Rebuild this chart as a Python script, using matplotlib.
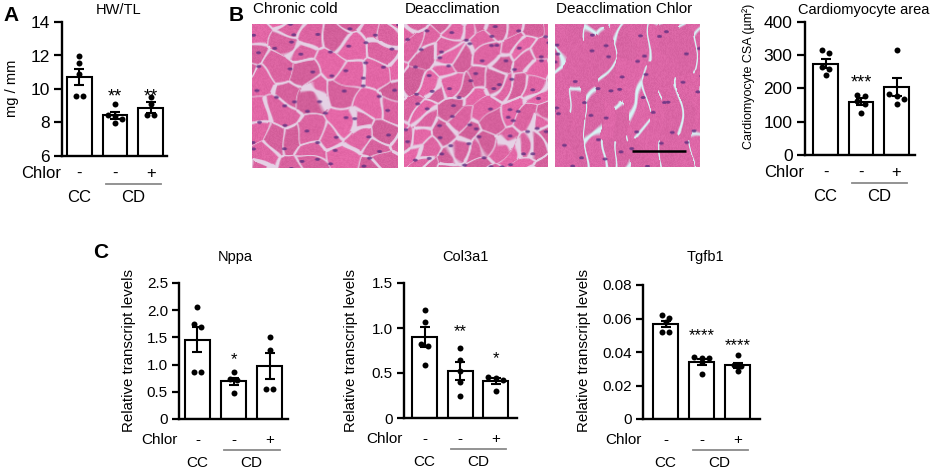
import numpy as np
import matplotlib
matplotlib.use("Agg")
import matplotlib.pyplot as plt
from matplotlib import transforms as mtrans

plt.rcParams['font.family'] = ['Liberation Sans', 'DejaVu Sans']

# ---------------- data ----------------
bar_groups = ['CC', 'CD', 'CD']
chlor_signs = ['-', '-', '+']

hwtl_mean = [10.73, 8.42, 8.89]
hwtl_sem = [0.48, 0.19, 0.31]
hwtl_points = [[11.98, 11.58, 10.89, 9.61, 9.61],
               [9.09, 8.45, 8.40, 8.20, 7.95],
               [9.55, 9.09, 8.45, 8.45]]
hwtl_stars = ['', '**', '**']
hwtl_ticks = [6, 8, 10, 12, 14]
hwtl_ticklabels = ['6', '8', '10', '12', '14']

csa_mean = [275, 160, 205]
csa_sem = [14, 10, 28]
csa_points = [[317, 308, 265, 258, 242],
              [180, 177, 162, 152, 125],
              [317, 182, 178, 168, 152]]
csa_stars = ['', '***', '']
csa_ticks = [0, 100, 200, 300, 400]
csa_ticklabels = ['0', '100', '200', '300', '400']

nppa_mean = [1.46, 0.69, 0.98]
nppa_sem = [0.23, 0.07, 0.24]
nppa_points = [[2.06, 1.75, 1.70, 0.87, 0.87],
               [0.86, 0.74, 0.72, 0.47],
               [1.50, 1.27, 0.55, 0.55]]
nppa_stars = ['', '*', '']
nppa_ticks = [0, 0.5, 1.0, 1.5, 2.0, 2.5]
nppa_ticklabels = ['0', '0.5', '1.0', '1.5', '2.0', '2.5']

col3_mean = [0.90, 0.52, 0.41]
col3_sem = [0.11, 0.10, 0.03]
col3_points = [[1.20, 1.07, 0.82, 0.80, 0.585],
               [0.78, 0.65, 0.52, 0.40, 0.24],
               [0.46, 0.44, 0.42, 0.30]]
col3_stars = ['', '**', '*']
col3_ticks = [0, 0.5, 1.0, 1.5]
col3_ticklabels = ['0', '0.5', '1.0', '1.5']

tgfb_mean = [0.0568, 0.0338, 0.0320]
tgfb_sem = [0.0018, 0.0018, 0.0017]
tgfb_points = [[0.0621, 0.0605, 0.0580, 0.0522, 0.0522],
               [0.0373, 0.0367, 0.0367, 0.0340, 0.0268],
               [0.0383, 0.0320, 0.0315, 0.0285]]
tgfb_stars = ['', '****', '****']
tgfb_ticks = [0, 0.02, 0.04, 0.06, 0.08]
tgfb_ticklabels = ['0', '0.02', '0.04', '0.06', '0.08']

histo_titles = ['Chronic cold', 'Deacclimation', 'Deacclimation Chlor']

# ---------------- figure ----------------
W, H = 934, 471
fig = plt.figure(figsize=(W / 100, H / 100), dpi=100)


def px_axes(x0, y0, x1, y1):
    return fig.add_axes([x0 / W, 1 - y1 / H, (x1 - x0) / W, (y1 - y0) / H])


def fig_text(x, y, s, **kw):
    return fig.text(x / W, 1 - y / H, s, **kw)


def swarm(ax, vals, d=6.0):
    vals = np.asarray(vals, float)
    ypx = ax.transData.transform(np.column_stack([np.zeros(len(vals)), vals]))[:, 1]
    ppu = ax.transData.transform((1, 0))[0] - ax.transData.transform((0, 0))[0]
    order = np.argsort(-ypx)
    rows, cur = [], []
    for i in order:
        if cur and abs(ypx[cur[0]] - ypx[i]) > d * 0.9:
            rows.append(cur)
            cur = []
        cur.append(i)
    rows.append(cur)
    offs = np.zeros(len(vals))
    for r in rows:
        k = len(r)
        for j, i in enumerate(sorted(r)):
            offs[i] = (j - (k - 1) / 2) * d * 1.2 / ppu
    return offs


def bar_panel(box, xlim, ylim, ticks, ticklabels, means, sems, points, stars,
              stars_y, fs_tick, fs_star, fs_row, rows_dy, tick_len, tick_pad):
    ax = px_axes(*box)
    x = np.arange(len(means))
    ax.set_xlim(xlim)
    ax.set_ylim(ylim)
    ax.bar(x, means, width=0.7, color='white', edgecolor='black',
           linewidth=1.5, zorder=2)
    for xi, vals in zip(x, points):
        offs = swarm(ax, vals)
        ax.plot(xi + offs, vals, 'o', color='black', ms=4.3, mew=0,
                zorder=4, clip_on=False)
    ax.errorbar(x, means, yerr=sems, fmt='none', ecolor='black',
                elinewidth=1.5, capsize=3.5, capthick=1.5, zorder=5)
    for s in ['top', 'right']:
        ax.spines[s].set_visible(False)
    for s in ['left', 'bottom']:
        ax.spines[s].set_linewidth(1.7)
    ax.set_xticks([])
    ax.set_yticks(ticks)
    ax.set_yticklabels(ticklabels)
    ax.tick_params(axis='y', direction='out', length=tick_len, width=1.6,
                   labelsize=fs_tick, pad=tick_pad)
    # significance stars
    fs_px = fs_star * 100 / 72
    t_star = mtrans.offset_copy(ax.transData, fig=fig, y=-0.6 * fs_px, units='dots')
    for xi, s, sy in zip(x, stars, stars_y):
        if s:
            ax.text(xi, sy, s, transform=t_star, ha='center', va='baseline',
                    fontsize=fs_star)
    # treatment rows
    base = mtrans.blended_transform_factory(ax.transData, ax.transAxes)
    chl_dy, line_dy, grp_dy = rows_dy
    t_chl = mtrans.offset_copy(base, fig=fig, y=-chl_dy, units='dots')
    t_chl_lab = mtrans.offset_copy(base, fig=fig, x=-1, y=-chl_dy, units='dots')
    t_line = mtrans.offset_copy(base, fig=fig, y=-line_dy, units='dots')
    t_grp = mtrans.offset_copy(base, fig=fig, y=-grp_dy, units='dots')
    ax.text(xlim[0], 0, 'Chlor', transform=t_chl_lab, ha='right', va='center',
            fontsize=fs_row)
    for xi, s in zip(x, chlor_signs):
        ax.text(xi, 0, s, transform=t_chl, ha='center', va='center',
                fontsize=fs_row)
    seen = []
    for g in bar_groups:
        if g not in seen:
            seen.append(g)
    for g in seen:
        idx = [i for i, gg in enumerate(bar_groups) if gg == g]
        ax.text(np.mean(idx), 0, g, transform=t_grp, ha='center', va='center',
                fontsize=fs_row)
        if len(idx) > 1:
            ax.plot([min(idx) - 0.25, max(idx) + 0.3], [0, 0], transform=t_line,
                    color='#8a8a8a', lw=1.3, clip_on=False)
    return ax


# ---------------- histology textures ----------------
def frac_hash(a, b):
    s = np.sin(a * 12.9898 + b * 78.233) * 43758.5453
    return s - np.floor(s)


def tissue(n=145, spacing=20.0, stretch=1.0, angle=0.0, border_w=1.6,
           gap_frac=0.0, border_col=(0.90, 0.82, 0.90), pink=(0.86, 0.39, 0.63),
           nuc=(0.36, 0.18, 0.50), nuc_step=20, salt=0.0, var=0.10, jit=0.8):
    yy, xx = np.mgrid[0:n, 0:n].astype(float)
    # gentle warp so cell outlines are irregular
    wx = xx + 2.5 * np.sin(yy / 9.0 + salt) + 1.5 * np.sin(xx / 6.0 + 2 * salt)
    wy = yy + 2.5 * np.sin(xx / 8.0 + 1.3 * salt) + 1.5 * np.sin(yy / 5.0 + salt)
    ca, sa = np.cos(angle), np.sin(angle)
    u = (wx * ca + wy * sa) / stretch
    v = (-wx * sa + wy * ca)
    gi, gj = np.meshgrid(
        np.arange(np.floor(u.min() / spacing) - 2, np.ceil(u.max() / spacing) + 2),
        np.arange(np.floor(v.min() / spacing) - 2, np.ceil(v.max() / spacing) + 2))
    gi = gi.ravel()
    gj = gj.ravel()
    off = (1 - jit) / 2
    su = (gi + off + jit * frac_hash(gi + salt, gj)) * spacing
    sv = (gj + off + jit * frac_hash(gj + 3.1 + salt, gi + 1.7)) * spacing
    d = np.sqrt((u[..., None] - su) ** 2 + (v[..., None] - sv) ** 2)
    order = np.argpartition(d, 1, axis=-1)[..., :2]
    d12 = np.take_along_axis(d, order, axis=-1)
    swap = d12[..., 0] > d12[..., 1]
    i1 = np.where(swap, order[..., 1], order[..., 0])
    i2 = np.where(swap, order[..., 0], order[..., 1])
    edge = (d12.max(-1) - d12.min(-1)) / 2
    cellb = 1 - var / 2 + var * frac_hash(i1 * 1.3 + salt, i1 * 0.7 + 2)
    img = np.array(pink)[None, None, :] * cellb[..., None]
    img = img + 0.05 * (frac_hash(xx * 0.37 + salt, yy * 1.11) - 0.5)[..., None]
    # width of interstitial gap varies per cell pair
    pair = frac_hash(np.minimum(i1, i2) * 1.7 + salt, np.maximum(i1, i2) * 0.9)
    bw = border_w * (0.5 + pair)
    a = np.clip((bw - edge) / 0.9, 0, 1)
    if gap_frac > 0:
        a = a * (pair > gap_frac)
    img = img * (1 - a[..., None]) + np.array(border_col) * a[..., None]
    ni, nj = np.meshgrid(np.arange(-nuc_step, n + nuc_step, nuc_step),
                         np.arange(-nuc_step, n + nuc_step, nuc_step))
    ni = ni.ravel().astype(float)
    nj = nj.ravel().astype(float)
    nx = ni + nuc_step * frac_hash(ni + salt, nj + 5)
    ny = nj + nuc_step * frac_hash(nj + salt + 9, ni)
    dn = np.min(((xx[..., None] - nx) / 2.6) ** 2 + ((yy[..., None] - ny) / 1.6) ** 2,
                axis=-1)
    na = np.clip(1.4 - dn, 0, 1) * 0.8
    img = img * (1 - na[..., None]) + np.array(nuc) * na[..., None]
    return np.clip(img, 0, 1)


histo_boxes = [(252, 24, 397, 168), (404, 24, 548, 167), (555, 24, 699, 167)]
histo_params = [
    dict(spacing=22, stretch=1.1, angle=0.35, border_w=1.5, salt=0.0),
    dict(spacing=16, stretch=1.4, angle=-0.85, border_w=1.3, salt=3.7, nuc_step=18),
    dict(spacing=15, stretch=2.6, angle=np.pi / 2, border_w=0.85, gap_frac=0.66,
         border_col=(0.84, 0.95, 0.96), pink=(0.86, 0.40, 0.65), nuc_step=22,
         salt=7.3, var=0.03),
]
for k, (box, prm) in enumerate(zip(histo_boxes, histo_params)):
    ax = px_axes(*box)
    n = 145
    ax.imshow(tissue(n=n, **prm), extent=(0, n, n, 0), aspect='auto',
              interpolation='bilinear')
    ax.set_xlim(0, n)
    ax.set_ylim(n, 0)
    ax.axis('off')
    fig_text(box[0] + 1, 9, histo_titles[k], ha='left', va='center', fontsize=11)
    if k == 2:
        ax.plot([78, 132], [129, 129], color='black', lw=1.8, solid_capstyle='butt')

# ---------------- bar panels ----------------
rowsAB = (17.5, 28, 42)
rowsC = (21, 31, 44)

bar_panel((62, 22, 167, 156), (-0.49, 2.46), (6, 14), hwtl_ticks, hwtl_ticklabels,
          hwtl_mean, hwtl_sem, hwtl_points, hwtl_stars, [0, 9.92, 9.92],
          12.5, 13, 12, rowsAB, 6, 3)
fig_text(119, 10, 'HW/TL', ha='center', va='center', fontsize=10.5)
fig_text(12, 88, 'mg / mm', ha='center', va='center', rotation=90, fontsize=10.5)

bar_panel((805, 22, 915, 155), (-0.58, 2.52), (0, 400), csa_ticks, csa_ticklabels,
          csa_mean, csa_sem, csa_points, csa_stars, [0, 235, 0],
          12.5, 13, 12, rowsAB, 6, 3)
fig_text(864, 10, 'Cardiomyocyte area', ha='center', va='center', fontsize=10.5)
fig_text(749, 76, 'Cardiomyocyte CSA (µm²)', ha='center', va='center',
         rotation=90, fontsize=9)

c_panels = [
    ((179, 283, 288, 419), (-0.51, 2.51), (0, 2.5), nppa_ticks, nppa_ticklabels,
     nppa_mean, nppa_sem, nppa_points, nppa_stars, [0, 1.19, 0], 'Nppa', 235, 129),
    ((404, 283, 517, 418), (-0.58, 2.6), (0, 1.5), col3_ticks, col3_ticklabels,
     col3_mean, col3_sem, col3_points, col3_stars, [0, 1.02, 0.72], 'Col3a1', 465, 351),
    ((643, 285, 760, 419), (-0.625, 2.62), (0, 0.08), tgfb_ticks, tgfb_ticklabels,
     tgfb_mean, tgfb_sem, tgfb_points, tgfb_stars, [0, 0.053, 0.047], 'Tgfb1', 705, 584),
]
for (box, xl, yl, tk, tl, m, s, p, st, sy, title, tx, lx) in c_panels:
    bar_panel(box, xl, yl, tk, tl, m, s, p, st, sy, 11, 12, 11, rowsC, 5, 3)
    fig_text(tx, 257, title, ha='center', va='center', fontsize=10.5)
    fig_text(lx, 351, 'Relative transcript levels', ha='center', va='center',
             rotation=90, fontsize=10.8)

# panel letters
fig_text(3, 15.5, 'A', ha='left', va='center', fontsize=15, fontweight='bold')
fig_text(229, 15.5, 'B', ha='left', va='center', fontsize=15, fontweight='bold')
fig_text(93, 252, 'C', ha='left', va='center', fontsize=15, fontweight='bold')

fig.savefig('out.png', dpi=100)
